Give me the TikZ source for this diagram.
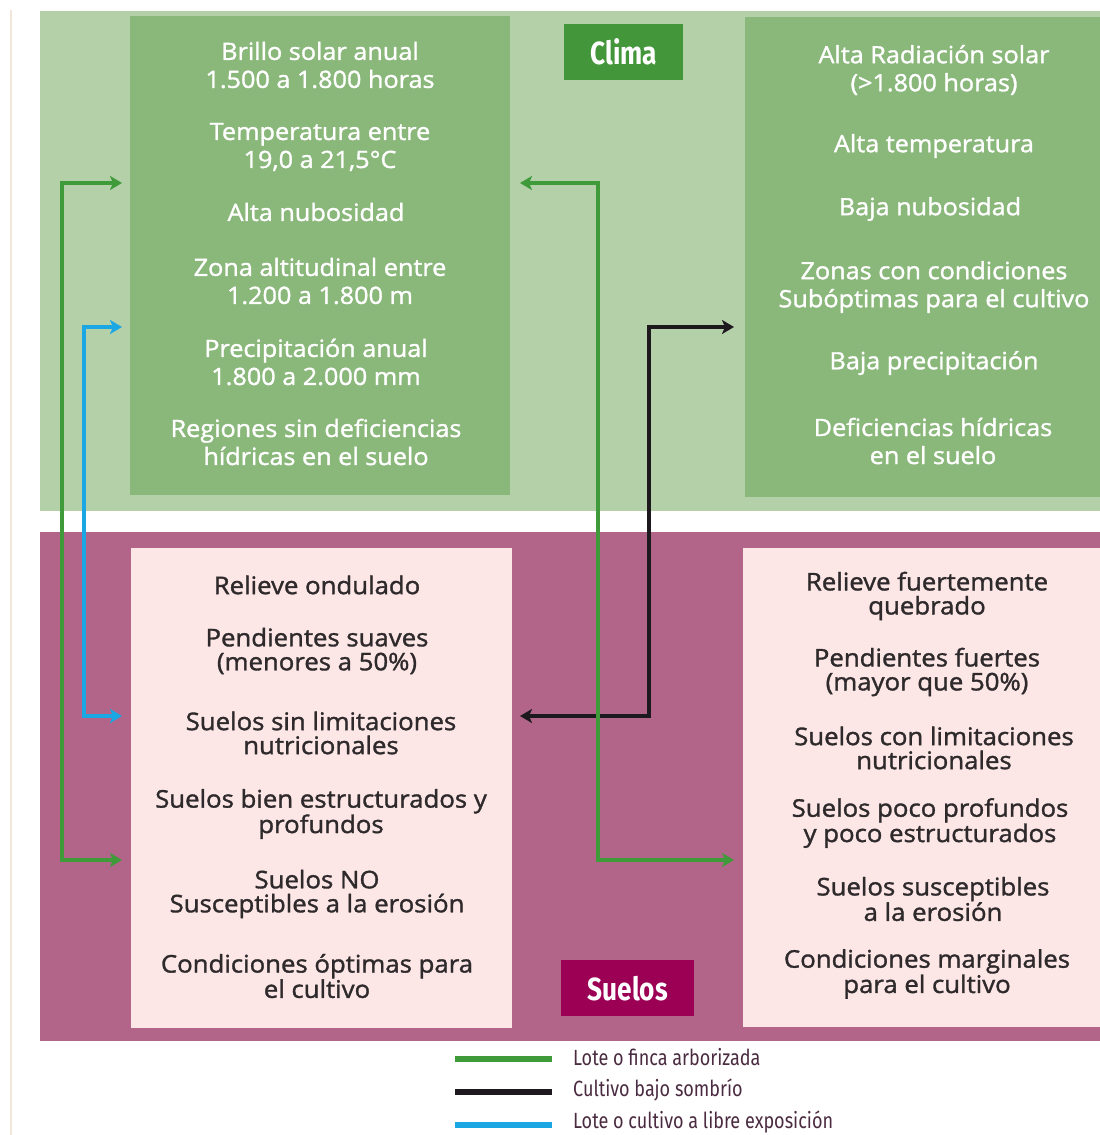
\documentclass[tikz,border=0pt]{standalone}
\usepackage{fontspec}
\setmainfont{Open Sans}[FakeBold=1.4, FakeStretch=1.06]
\newfontfamily\condfont[FakeStretch=0.82]{Fira Sans}
\usetikzlibrary{arrows.meta}
\definecolor{bglight}{HTML}{B4D0A9}
\definecolor{boxgreen}{HTML}{8AB77A}
\definecolor{climagreen}{HTML}{43973A}
\definecolor{bgmag}{HTML}{B26589}
\definecolor{boxpink}{HTML}{FCE6E6}
\definecolor{suelosmag}{HTML}{9C0055}
\definecolor{argreen}{HTML}{3F9B3A}
\definecolor{arblue}{HTML}{1AA7E4}
\definecolor{arblack}{HTML}{1E191E}
\definecolor{darktext}{HTML}{2E2A2C}
\definecolor{legtext}{HTML}{4A2B40}
\definecolor{beige}{HTML}{F1E6D8}
\tikzset{
  panel/.style={draw=none, inner sep=0pt, anchor=north west},
  toptext/.style={text=white, align=center, font=\fontsize{23.8}{28}\selectfont, inner sep=0pt},
  bottext/.style={text=darktext, align=center, font=\fontsize{24.3}{24}\selectfont, inner sep=0pt},
  tag/.style={text=white, font=\condfont\bfseries\fontsize{32}{33}\selectfont, inner sep=0pt},
  conn/.style={line width=4pt, {Stealth[length=12pt,width=14pt,inset=3pt]}-{Stealth[length=12pt,width=14pt,inset=3pt]}},
  legline/.style={line width=6pt},
  legtxt/.style={text=legtext, anchor=west, font=\condfont\fontsize{22}{23}\selectfont, inner sep=0pt},
}
\begin{document}
\begin{tikzpicture}[x=1pt,y=-1pt]
\useasboundingbox[fill=white] (0,0) rectangle (1100,1135);
\draw[beige, line width=2pt] (11,10) -- (11,1135);
% backgrounds
\fill[bglight] (40,11) rectangle (1100,511);
\fill[bgmag] (40,532) rectangle (1100,1041);
% boxes
\node[panel, fill=boxgreen, minimum width=380pt, minimum height=479pt] (ltb) at (130,16) {};
\node[panel, fill=boxgreen, minimum width=355pt, minimum height=480pt] (rtb) at (745,17) {};
\node[panel, fill=boxpink, minimum width=381pt, minimum height=480pt] (lbb) at (131,548) {};
\node[panel, fill=boxpink, minimum width=357pt, minimum height=479pt] (rbb) at (743,548) {};
\node[panel, fill=climagreen, minimum width=119pt, minimum height=56pt] (climabox) at (564,24) {};
\node[tag] (clima) at (climabox.center) {Clima};
\node[panel, fill=suelosmag, minimum width=133pt, minimum height=56pt] (suelosbox) at (561,960) {};
\node[tag] (suelos) at (suelosbox.center) {Suelos};
% top-left texts
\node[toptext] (tl1) at (320,65) {Brillo solar anual\\1.500 a 1.800 horas};
\node[toptext] (tl2) at (320,147) {Temperatura entre\\19,0 a 21,5°C};
\node[toptext] (tl3) at (316,212) {Alta nubosidad};
\node[toptext] (tl4) at (320,281) {Zona altitudinal entre\\1.200 a 1.800 m};
\node[toptext] (tl5) at (316,362) {Precipitación anual\\1.800 a 2.000 mm};
\node[toptext] (tl6) at (316,442) {Regiones sin deficiencias\\hídricas en el suelo};
% top-right texts
\node[toptext] (tr1) at (934,70) {Alta Radiación solar\\(>1.800 horas)};
\node[toptext] (tr2) at (934,146) {Alta temperatura};
\node[toptext] (tr3) at (930,209) {Baja nubosidad};
\node[toptext] (tr4) at (934,287) {Zonas con condiciones\\Subóptimas para el cultivo};
\node[toptext] (tr5) at (934,363) {Baja precipitación};
\node[toptext] (tr6) at (933,441) {Deficiencias hídricas\\en el suelo};
% bottom-left texts
\node[bottext] (bl1) at (317,585) {Relieve ondulado};
\node[bottext] (bl2) at (317,651) {Pendientes suaves\\(menores a 50\%)};
\node[bottext] (bl3) at (321,733) {Suelos sin limitaciones\\nutricionales};
\node[bottext] (bl4) at (321,814) {Suelos bien estructurados y\\profundos};
\node[bottext] (bl5) at (317,894) {Suelos NO\\Susceptibles a la erosión};
\node[bottext] (bl6) at (317,976) {Condiciones óptimas para\\el cultivo};
% bottom-right texts
\node[bottext] (br1) at (927,596) {Relieve fuertemente\\quebrado};
\node[bottext] (br2) at (927,672) {Pendientes fuertes\\(mayor que 50\%)};
\node[bottext] (br3) at (934,748) {Suelos con limitaciones\\nutricionales};
\node[bottext] (br4) at (930,823) {Suelos poco profundos\\y poco estructurados};
\node[bottext] (br5) at (933,899) {Suelos susceptibles\\a la erosión};
\node[bottext] (br6) at (927,974) {Condiciones marginales\\para el cultivo};
% connector end points
\coordinate (ga) at (122,183);
\coordinate (gb) at (122,860);
\coordinate (ba) at (122,327);
\coordinate (bb) at (122,716);
\coordinate (gc) at (520,183);
\coordinate (gd) at (734,860);
\coordinate (ka) at (734,327);
\coordinate (kb) at (520,716);
% connectors
\draw[conn, argreen] (ga) -- ++(-60,0) |- (gb);
\draw[conn, arblue] (ba) -- ++(-38,0) |- (bb);
\draw[conn, arblack] (ka) -- ++(-85,0) |- (kb);
\draw[conn, argreen] (gc) -- ++(78,0) |- (gd);
% legend
\coordinate (l1a) at (455,1059); \coordinate (l1b) at (552,1059);
\coordinate (l2a) at (455,1092); \coordinate (l2b) at (552,1092);
\coordinate (l3a) at (455,1125); \coordinate (l3b) at (552,1125);
\draw[legline, argreen] (l1a) -- (l1b);
\draw[legline, arblack] (l2a) -- (l2b);
\draw[legline, arblue] (l3a) -- (l3b);
\node[legtxt] (lg1) at (573,1057) {Lote o finca arborizada};
\node[legtxt] (lg2) at (573,1090) {Cultivo bajo sombrío};
\node[legtxt] (lg3) at (573,1122) {Lote o cultivo a libre exposición};
\end{tikzpicture}
\end{document}
